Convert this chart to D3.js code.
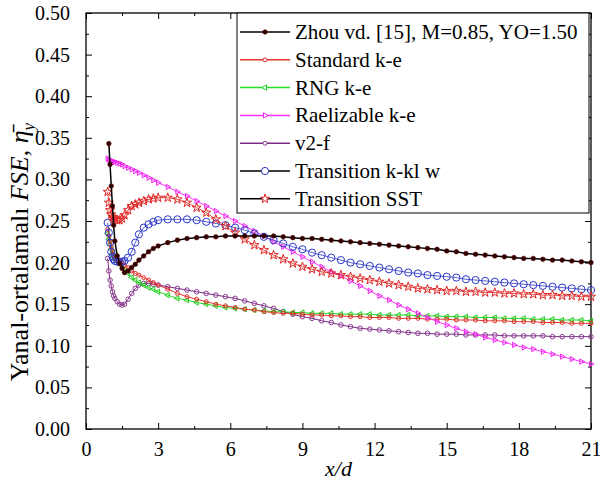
<!DOCTYPE html>
<html>
<head>
<meta charset="utf-8">
<script src="https://cdn.jsdelivr.net/npm/d3@7"></script>
</head>
<body style="margin:0">
<script>
// x/d positions shared by all series
var xGrid = [0.9, 0.95, 1.0, 1.05, 1.1, 1.15, 1.2, 1.3, 1.4, 1.5, 1.6, 1.75, 1.9, 2.05, 2.2, 2.4, 2.6, 2.8,
  3.0, 3.4, 3.8, 4.2, 4.6, 5.0, 5.4, 5.8, 6.2, 6.6, 7.0, 7.4, 7.8, 8.2, 8.6, 9.0, 9.4, 9.8,
  10.2, 10.6, 11.0, 11.4, 11.8, 12.2, 12.6, 13.0, 13.4, 13.8, 14.2, 14.6, 15.0, 15.4, 15.8,
  16.2, 16.6, 17.0, 17.4, 17.8, 18.2, 18.6, 19.0, 19.4, 19.8, 20.2, 20.6, 21.0];

var zhou = [null, 0.343, 0.318, 0.292, 0.268, 0.245, 0.226, 0.208, 0.199, 0.193, 0.188, 0.190, 0.194, 0.198, 0.203, 0.208, 0.213, 0.217,
  0.220, 0.224, 0.227, 0.229, 0.230, 0.231, 0.231, 0.232, 0.232, 0.232, 0.232, 0.232, 0.232, 0.231, 0.230, 0.229, 0.229, 0.228,
  0.227, 0.226, 0.225, 0.224, 0.223, 0.222, 0.221, 0.220, 0.219, 0.218, 0.217, 0.216, 0.214, 0.213, 0.211,
  0.210, 0.209, 0.208, 0.207, 0.206, 0.205, 0.205, 0.204, 0.203, 0.203, 0.202, 0.201, 0.200];

var stdKe = [0.240, 0.232, 0.225, 0.219, 0.214, 0.209, 0.205, 0.203, 0.202, 0.200, 0.197, 0.194, 0.190, 0.187, 0.185, 0.182, 0.179, 0.176,
  0.173, 0.168, 0.163, 0.159, 0.156, 0.153, 0.150, 0.148, 0.146, 0.144, 0.143, 0.141, 0.140, 0.139, 0.139, 0.138, 0.137, 0.137,
  0.136, 0.136, 0.135, 0.135, 0.134, 0.134, 0.134, 0.133, 0.133, 0.133, 0.132, 0.132, 0.132, 0.131, 0.131,
  0.131, 0.130, 0.130, 0.130, 0.129, 0.129, 0.129, 0.128, 0.128, 0.128, 0.127, 0.127, 0.127];

var rngKe = [0.235, 0.228, 0.222, 0.216, 0.211, 0.207, 0.204, 0.201, 0.199, 0.196, 0.192, 0.187, 0.182, 0.179, 0.176, 0.173, 0.170, 0.168,
  0.165, 0.161, 0.157, 0.155, 0.152, 0.150, 0.148, 0.146, 0.145, 0.144, 0.143, 0.142, 0.141, 0.141, 0.140, 0.140, 0.139, 0.139,
  0.139, 0.138, 0.138, 0.138, 0.138, 0.137, 0.137, 0.137, 0.137, 0.136, 0.136, 0.136, 0.135, 0.135, 0.135,
  0.134, 0.134, 0.134, 0.133, 0.133, 0.133, 0.132, 0.132, 0.132, 0.131, 0.131, 0.131, 0.130];

var realKe = [0.325, 0.324, 0.323, 0.322, 0.322, 0.321, 0.321, 0.320, 0.319, 0.318, 0.316, 0.314, 0.312, 0.310, 0.308, 0.305, 0.302, 0.299,
  0.296, 0.291, 0.285, 0.280, 0.274, 0.268, 0.262, 0.256, 0.250, 0.244, 0.238, 0.232, 0.225, 0.219, 0.213, 0.207, 0.201, 0.195,
  0.189, 0.184, 0.178, 0.172, 0.166, 0.160, 0.155, 0.149, 0.144, 0.139, 0.134, 0.129, 0.125, 0.121, 0.117,
  0.114, 0.110, 0.107, 0.104, 0.101, 0.098, 0.096, 0.093, 0.090, 0.087, 0.084, 0.081, 0.078];

var v2f = [0.205, 0.190, 0.179, 0.172, 0.165, 0.160, 0.157, 0.153, 0.150, 0.149, 0.150, 0.156, 0.163, 0.169, 0.173, 0.175, 0.175, 0.174,
  0.173, 0.171, 0.169, 0.167, 0.165, 0.163, 0.161, 0.159, 0.157, 0.154, 0.151, 0.148, 0.145, 0.141, 0.138, 0.135, 0.133, 0.130,
  0.128, 0.125, 0.123, 0.121, 0.120, 0.119, 0.118, 0.117, 0.116, 0.115, 0.115, 0.114, 0.114, 0.114, 0.113,
  0.113, 0.113, 0.113, 0.112, 0.112, 0.112, 0.112, 0.112, 0.111, 0.111, 0.111, 0.111, 0.111];

var kklw = [0.248, 0.236, 0.224, 0.213, 0.207, 0.204, 0.202, 0.201, 0.201, 0.201, 0.202, 0.206, 0.213, 0.224, 0.234, 0.242, 0.246, 0.249,
  0.251, 0.252, 0.252, 0.252, 0.251, 0.249, 0.247, 0.245, 0.242, 0.239, 0.235, 0.231, 0.227, 0.223, 0.219, 0.216, 0.212, 0.209,
  0.206, 0.203, 0.200, 0.198, 0.196, 0.194, 0.192, 0.190, 0.188, 0.187, 0.185, 0.184, 0.183, 0.182, 0.180,
  0.179, 0.178, 0.177, 0.176, 0.175, 0.174, 0.173, 0.172, 0.171, 0.170, 0.169, 0.168, 0.167];

var sst = [0.285, 0.272, 0.263, 0.258, 0.255, 0.253, 0.252, 0.251, 0.251, 0.253, 0.257, 0.263, 0.268, 0.270, 0.272, 0.274, 0.276, 0.277,
  0.278, 0.278, 0.276, 0.272, 0.266, 0.260, 0.252, 0.244, 0.236, 0.228, 0.221, 0.215, 0.209, 0.204, 0.199, 0.195, 0.192, 0.189,
  0.187, 0.185, 0.183, 0.181, 0.179, 0.177, 0.175, 0.173, 0.171, 0.169, 0.168, 0.167, 0.166, 0.166, 0.165,
  0.165, 0.164, 0.164, 0.163, 0.163, 0.162, 0.162, 0.161, 0.161, 0.160, 0.160, 0.159, 0.159];

var seriesNames = ['Zhou vd. [15], M=0.85, YO=1.50', 'Standard k-e', 'RNG k-e', 'Raelizable k-e',
  'v2-f', 'Transition k-kl w', 'Transition SST'];

var xTicks = [0, 3, 6, 9, 12, 15, 18, 21];
var yTicks = [0, 0.05, 0.1, 0.15, 0.2, 0.25, 0.3, 0.35, 0.4, 0.45, 0.5];

var w = 600;
var h = 483;
var m = { top: 13, right: 9, bottom: 54, left: 86 };
var fam = "'" + 'Liberation Serif' + "'";

var svg = d3.select('body').append('svg').attr('width', w).attr('height', h)
  .style('display', 'block');

var x = d3.scaleLinear().domain([0, 21]).range([m.left, w - m.right]);
var y = d3.scaleLinear().domain([0, 0.5]).range([h - m.bottom, m.top]);

var xMinor = d3.range(0, 22.5, 1.5).filter(v => v % 3 !== 0);
var yMinor = d3.range(0.025, 0.5, 0.05);

function addAxis(axisFn, scale, pos, vals, size, labels) {
  var pad = axisFn === d3.axisLeft ? 16 : 13;
  var ax = axisFn(scale).tickValues(vals).tickSizeInner(-size).tickSizeOuter(0).tickPadding(pad);
  if (!labels) ax.tickFormat('');
  else if (axisFn === d3.axisLeft) ax.tickFormat(d3.format('.2f'));
  else ax.tickFormat(d3.format('d'));
  var g = svg.append('g').attr('transform', pos).call(ax);
  g.attr('font-family', null).attr('font-size', null);
  g.select('.domain').remove();
  g.selectAll('line').attr('stroke', '#000');
  g.selectAll('text').attr('fill', '#000').attr('font-size', 20)
    .style('font-family', fam);
  return g;
}

addAxis(d3.axisBottom, x, 'translate(0,' + (h - m.bottom) + ')', xTicks, 6, true);
addAxis(d3.axisBottom, x, 'translate(0,' + (h - m.bottom) + ')', xMinor, 3, false);
addAxis(d3.axisTop, x, 'translate(0,' + m.top + ')', xTicks, 6, false);
addAxis(d3.axisTop, x, 'translate(0,' + m.top + ')', xMinor, 3, false);
addAxis(d3.axisLeft, y, 'translate(' + m.left + ',0)', yTicks, 6, true);
addAxis(d3.axisLeft, y, 'translate(' + m.left + ',0)', yMinor, 3, false);
addAxis(d3.axisRight, y, 'translate(' + (w - m.right) + ',0)', yTicks, 6, false);
addAxis(d3.axisRight, y, 'translate(' + (w - m.right) + ',0)', yMinor, 3, false);

// frame
svg.append('rect')
  .attr('x', m.left).attr('y', m.top)
  .attr('width', w - m.left - m.right).attr('height', h - m.top - m.bottom)
  .attr('fill', 'none').attr('stroke', '#000').attr('stroke-width', 1.3);

var series = [
  { vals: v2f, line: '#7b2a85', mark: '#8a3a90', sym: 'circle', r: 2.3, lw: 1 },
  { vals: rngKe, line: '#22dd22', mark: '#22cc22', sym: 'triL', r: 12, lw: 1 },
  { vals: stdKe, line: '#e8362e', mark: '#e0302a', sym: 'circle', r: 2, lw: 1 },
  { vals: realKe, line: '#ff33ff', mark: '#ee22ee', sym: 'triR', r: 12, lw: 1 },
  { vals: kklw, line: '#2a36c8', mark: '#2a36c8', sym: 'circle', r: 3.6, lw: 0.8 },
  { vals: sst, line: '#e02424', mark: '#e02424', sym: 'star', r: 26, lw: 0.8 },
  { vals: zhou, line: '#000', mark: '#2a0000', sym: 'dot', r: 2.3, lw: 1.5 }
];

var lineGen = d3.line()
  .defined(d => d[1] != null)
  .x(d => x(d[0]))
  .y(d => y(d[1]));

function drawMarker(g, s, cx, cy, fill) {
  var el;
  if (s.sym === 'circle') {
    el = g.append('circle').attr('cx', cx).attr('cy', cy).attr('r', s.r)
      .attr('stroke', s.mark).attr('stroke-width', 1);
  } else if (s.sym === 'dot') {
    return g.append('circle').attr('cx', cx).attr('cy', cy).attr('r', s.r)
      .attr('fill', s.mark).attr('stroke', '#5a0000').attr('stroke-width', 0.6);
  } else {
    var type = s.sym === 'star' ? d3.symbolStar : d3.symbolTriangle;
    var rot = s.sym === 'triR' ? 90 : s.sym === 'triL' ? -90 : 0;
    el = g.append('path')
      .attr('d', d3.symbol().type(type).size(s.r)())
      .attr('transform', 'translate(' + cx + ',' + cy + ') rotate(' + rot + ')')
      .attr('stroke', s.mark).attr('stroke-width', 1);
  }
  return el.attr('fill', fill || 'none');
}

var plot = svg.append('g');
series.forEach(function(s) {
  var pts = xGrid.map((xv, i) => [xv, s.vals[i]]);
  plot.append('path')
    .datum(pts)
    .attr('d', lineGen)
    .attr('fill', 'none')
    .attr('stroke', s.line)
    .attr('stroke-width', s.lw);
  var mg = plot.append('g');
  pts.filter(p => p[1] != null).forEach(p => drawMarker(mg, s, x(p[0]), y(p[1])));
});

// legend
var legLines = ['#000', '#e8362e', '#22dd22', '#ff33ff', '#7b2a85', '#000', '#000'];
var legSeries = [series[6], series[2], series[1], series[3], series[0], series[4], series[5]];
var leg = svg.append('g');
leg.append('rect')
  .attr('x', 237).attr('y', m.top).attr('width', 352).attr('height', 200)
  .attr('fill', '#fff').attr('stroke', '#000').attr('stroke-width', 1);
seriesNames.forEach(function(name, i) {
  var cy = 32 + i * 27.8;
  leg.append('line').attr('x1', 240).attr('x2', 290).attr('y1', cy).attr('y2', cy)
    .attr('stroke', legLines[i]).attr('stroke-width', 1.5);
  var ms = Object.assign({}, legSeries[i]);
  if (ms.sym === 'circle' && ms.r < 3) ms.r = 2;
  drawMarker(leg, ms, 265, cy, '#fff');
  leg.append('text').attr('x', 295).attr('y', cy + 7).attr('font-size', 21)
    .style('font-family', fam).attr('fill', '#000').text(name);
});

// axis titles
svg.append('text')
  .attr('x', (m.left + w - m.right) / 2).attr('y', 476)
  .attr('text-anchor', 'middle').attr('font-size', 22).attr('font-style', 'italic')
  .style('font-family', fam)
  .text('x/d');

var yt = svg.append('text')
  .attr('transform', 'translate(28,252) rotate(-90)')
  .attr('text-anchor', 'middle').attr('font-size', 26)
  .style('font-family', fam);
yt.append('tspan').text('Yanal-ortalamalı ');
yt.append('tspan').attr('font-style', 'italic').text('FSE');
yt.append('tspan').text(', ');
yt.append('tspan').attr('font-style', 'italic').text('η\u0304');
yt.append('tspan').attr('font-style', 'italic').attr('font-size', 17).attr('dy', 6).text('y');
</script>
</body>
</html>
